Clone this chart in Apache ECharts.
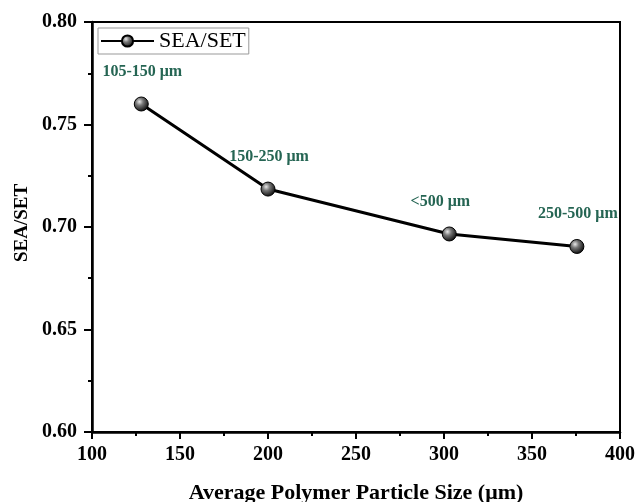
<!DOCTYPE html>
<html>
<head>
<meta charset="utf-8">
<script src="https://cdn.jsdelivr.net/npm/echarts@6/dist/echarts.min.js"></script>
<style>
  html, body { margin: 0; padding: 0; background: #fff; }
  #chart { width: 637px; height: 502px; }
</style>
</head>
<body>
<div id="chart"></div>
<script>
// data
var particleSize = [128, 200, 303, 375.5];
var seaSet = [0.760, 0.7185, 0.6966, 0.6905];
var sizeLabels = ["105-150 \u03bcm", "150-250 \u03bcm", "<500 \u03bcm", "250-500 \u03bcm"];
var labelShiftX = [1, 1, -9, 1];

var serif = '"Liberation Serif", "Times New Roman", serif';

var chart = echarts.init(document.getElementById("chart"));

var points = particleSize.map(function (x, i) {
  return {
    value: [x, seaSet[i]],
    label: { offset: [labelShiftX[i], 0] },
  };
});

var option = {
  backgroundColor: "#fff",
  animation: false,
  grid: {
    left: 92,
    right: 17,
    top: 22,
    bottom: 70,
    outerBoundsMode: "none",
    containLabel: false,
    show: true,
    borderColor: "#000",
    borderWidth: 2,
  },
  legend: {
    left: 98,
    top: 28,
    padding: [2, 3, 2, 2],
    borderColor: "#999",
    borderWidth: 1,
    itemWidth: 53,
    itemHeight: 14,
    itemGap: 4,
    textStyle: { fontFamily: serif, fontSize: 22, color: "#000" },
    data: ["SEA/SET"],
  },
  xAxis: {
    type: "value",
    min: 100,
    max: 400,
    interval: 50,
    name: "Average Polymer Particle Size (\u03bcm)",
    nameLocation: "middle",
    nameGap: 50,
    nameTextStyle: { fontFamily: serif, fontSize: 22, fontWeight: "bold", color: "#000" },
    axisLine: { lineStyle: { color: "#000", width: 2.5 } },
    axisTick: { length: 7, lineStyle: { width: 2, color: "#000" } },
    minorTick: { show: true, splitNumber: 2, length: 4, lineStyle: { width: 2, color: "#000" } },
    splitLine: { show: false },
    axisLabel: { fontFamily: serif, fontSize: 20, fontWeight: "bold", color: "#000", margin: 13 },
  },
  yAxis: {
    type: "value",
    min: 0.6,
    max: 0.8,
    interval: 0.05,
    name: "SEA/SET",
    nameLocation: "middle",
    nameGap: 59,
    nameRotate: 90,
    nameTextStyle: { fontFamily: serif, fontSize: 19, fontWeight: "bold", color: "#000", padding: [0, 0, 0, 8] },
    axisLine: { show: true, lineStyle: { color: "#000", width: 2.5 } },
    axisTick: { show: true, length: 8, lineStyle: { width: 2, color: "#000" } },
    minorTick: { show: true, splitNumber: 2, length: 4, lineStyle: { width: 2, color: "#000" } },
    splitLine: { show: false },
    axisLabel: {
      fontFamily: serif,
      fontSize: 20,
      fontWeight: "bold",
      color: "#000",
      margin: 15,
      formatter: function (v) { return v.toFixed(2); },
    },
  },
  series: [
    {
      name: "SEA/SET",
      type: "line",
      data: points,
      symbol: "circle",
      symbolSize: 14,
      lineStyle: { color: "#000", width: 3 },
      itemStyle: {
        color: {
          type: "radial",
          x: 0.38,
          y: 0.35,
          r: 0.7,
          colorStops: [
            { offset: 0, color: "#e8e8e8" },
            { offset: 0.35, color: "#777" },
            { offset: 1, color: "#000" },
          ],
        },
        borderColor: "#000",
        borderWidth: 1,
      },
      label: {
        show: true,
        position: "top",
        distance: 17,
        fontFamily: serif,
        fontSize: 16,
        fontWeight: "bold",
        color: "#256553",
        formatter: function (p) { return sizeLabels[p.dataIndex]; },
      },
    },
  ],
};

chart.setOption(option);
</script>
</body>
</html>
